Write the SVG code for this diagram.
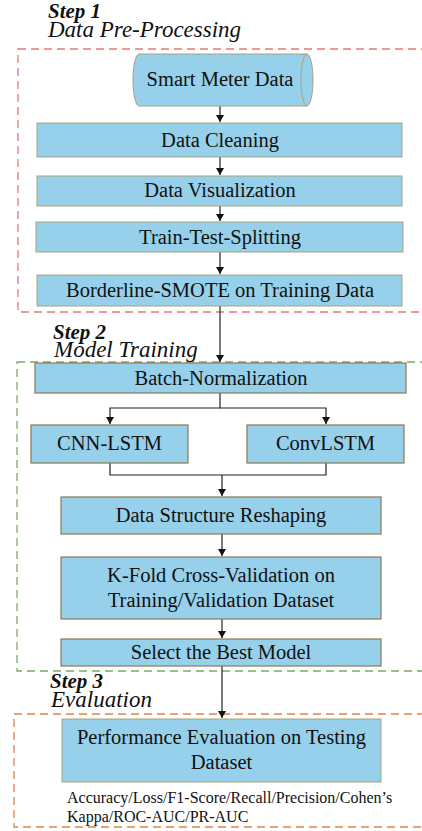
<svg xmlns="http://www.w3.org/2000/svg" width="422" height="831" viewBox="0 0 422 831">
<defs>
<marker id="ah" markerUnits="userSpaceOnUse" markerWidth="8" markerHeight="11" refX="7" refY="4" orient="auto">
<path d="M0,0 L7,4 L0,8 Z" fill="#111"/>
</marker>
</defs>
<style>
.box{fill:#97D0EA;stroke:#A8A27E;stroke-width:1}
.box2{fill:#97D0EA;stroke:#8C7A50;stroke-width:1.2}
text{font-family:'Liberation Serif','DejaVu Serif',serif;fill:#111}
.lbl{font-size:20.5px;text-anchor:middle}
.step{font-size:21px;font-weight:bold;font-style:italic}
.sub{font-size:23px;font-style:italic}
.met{font-size:16px}
.conn{fill:none;stroke:#222;stroke-width:1.2}
.sec{fill:none;stroke-width:1.3;stroke-dasharray:8 5}
</style>

<g id="step1-frame">
<rect class="sec" x="18" y="49" width="420" height="263" stroke="#E87878"/>
<text class="step" x="48" y="18">Step 1</text>
<text class="sub" x="48" y="37">Data Pre-Processing</text>
</g>
<g id="step2-frame">
<rect class="sec" x="17" y="362" width="420" height="309" stroke="#7FA86A"/>
<text class="step" x="53" y="339">Step 2</text>
<text class="sub" x="54" y="357">Model Training</text>
</g>
<g id="step3-frame">
<rect class="sec" x="14" y="714" width="420" height="113" stroke="#E0834A"/>
<text class="step" x="50" y="688">Step 3</text>
<text class="sub" x="51" y="707">Evaluation</text>
</g>

<g id="connectors">
<line class="conn" x1="220" y1="106" x2="220" y2="122" marker-end="url(#ah)"/>
<line class="conn" x1="220" y1="157" x2="220" y2="175" marker-end="url(#ah)"/>
<line class="conn" x1="220" y1="206" x2="220" y2="221" marker-end="url(#ah)"/>
<line class="conn" x1="220" y1="252" x2="220" y2="274" marker-end="url(#ah)"/>
<line class="conn" x1="220" y1="306" x2="220" y2="362" marker-end="url(#ah)"/>
<polyline class="conn" points="220,393 220,408 110,408 110,424" marker-end="url(#ah)"/>
<polyline class="conn" points="220,408 326,408 326,424" marker-end="url(#ah)"/>
<polyline class="conn" points="110,463 110,475 326,475 326,463"/>
<line class="conn" x1="222" y1="475" x2="222" y2="496" marker-end="url(#ah)"/>
<line class="conn" x1="222" y1="534" x2="222" y2="556" marker-end="url(#ah)"/>
<line class="conn" x1="222" y1="619" x2="222" y2="638" marker-end="url(#ah)"/>
<line class="conn" x1="222" y1="666" x2="222" y2="718" marker-end="url(#ah)"/>
</g>

<g id="smart-meter-data">
<path class="box" d="M139,54 L307,54 A6,26 0 0 1 307,106 L139,106 A6,26 0 0 1 139,54 Z"/>
<path fill="none" stroke="#A8A27E" stroke-width="1" d="M307,54 A6,26 0 0 0 307,106"/>
<text class="lbl" x="220" y="86">Smart Meter Data</text>
</g>
<g id="data-cleaning">
<rect class="box" x="37" y="123" width="365" height="34"/>
<text class="lbl" x="220" y="147">Data Cleaning</text>
</g>
<g id="data-visualization">
<rect class="box" x="37" y="176" width="365" height="30"/>
<text class="lbl" x="220" y="197">Data Visualization</text>
</g>
<g id="train-test-splitting">
<rect class="box" x="36" y="222" width="367" height="30"/>
<text class="lbl" x="220" y="243.5">Train-Test-Splitting</text>
</g>
<g id="borderline-smote">
<rect class="box" x="37" y="275" width="365" height="31"/>
<text class="lbl" x="220" y="297">Borderline-SMOTE on Training Data</text>
</g>
<g id="batch-normalization">
<rect class="box2" x="35" y="363" width="371" height="30"/>
<text class="lbl" x="221" y="385">Batch-Normalization</text>
</g>
<g id="cnn-lstm">
<rect class="box2" x="31" y="425" width="157" height="38"/>
<text class="lbl" x="109.5" y="450">CNN-LSTM</text>
</g>
<g id="convlstm">
<rect class="box2" x="247" y="425" width="157" height="38"/>
<text class="lbl" x="325.5" y="450">ConvLSTM</text>
</g>
<g id="data-structure-reshaping">
<rect class="box2" x="61" y="497" width="320" height="37"/>
<text class="lbl" x="221" y="522">Data Structure Reshaping</text>
</g>
<g id="k-fold">
<rect class="box2" x="61" y="557" width="320" height="62"/>
<text class="lbl" x="221" y="582">K-Fold Cross-Validation on</text>
<text class="lbl" x="221" y="607">Training/Validation Dataset</text>
</g>
<g id="select-best-model">
<rect class="box2" x="61" y="639" width="320" height="27"/>
<text class="lbl" x="221" y="658.5">Select the Best Model</text>
</g>
<g id="performance-evaluation">
<rect class="box" x="62" y="719" width="319" height="63"/>
<text class="lbl" x="221.5" y="744">Performance Evaluation on Testing</text>
<text class="lbl" x="221.5" y="769">Dataset</text>
</g>
<g id="metrics">
<text class="met" x="67" y="803">Accuracy/Loss/F1-Score/Recall/Precision/Cohen’s</text>
<text class="met" x="67" y="822">Kappa/ROC-AUC/PR-AUC</text>
</g>
</svg>
